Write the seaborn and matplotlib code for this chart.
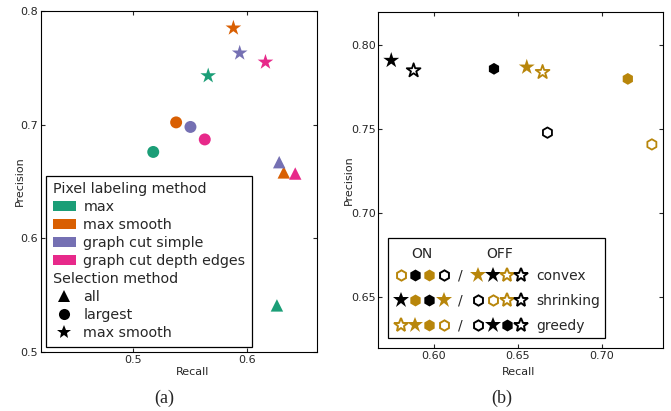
import numpy as np
import pandas as pd
import matplotlib
matplotlib.use("Agg")
import matplotlib.pyplot as plt
import matplotlib.text as mtext
import seaborn as sns
from matplotlib.lines import Line2D
from matplotlib.patches import Patch
from matplotlib.legend_handler import HandlerBase, HandlerTuple

# ---------------- Panel (a) data ----------------
pixel_methods = ["max", "max smooth", "graph cut simple", "graph cut depth edges"]
selection_methods = ["all", "largest", "max smooth"]
recall_all = [0.626, 0.632, 0.628, 0.642]
precision_all = [0.541, 0.658, 0.667, 0.657]
recall_largest = [0.518, 0.538, 0.5505, 0.563]
precision_largest = [0.676, 0.702, 0.698, 0.687]
recall_maxsmooth = [0.566, 0.588, 0.5935, 0.616]
precision_maxsmooth = [0.743, 0.785, 0.763, 0.755]
pixel_colors = ["#1b9e77", "#d95f02", "#7570b3", "#e7298a"]

# ---------------- Panel (b) data ----------------
convex = ["OFF", "OFF", "ON", "OFF", "OFF", "ON", "ON", "ON"]
shrinking = ["ON", "OFF", "ON", "ON", "OFF", "ON", "OFF", "OFF"]
greedy = ["OFF", "OFF", "OFF", "ON", "ON", "ON", "OFF", "ON"]
recall_b = [0.5747, 0.588, 0.6358, 0.6553, 0.6647, 0.7154, 0.6676, 0.7297]
precision_b = [0.791, 0.785, 0.786, 0.787, 0.784, 0.780, 0.748, 0.741]

# legend glyph rows for (b): (greedy, shrinking, convex) per glyph
legend_rows = {
    "convex": (
        [("ON", "OFF", "ON"), ("OFF", "ON", "ON"), ("ON", "ON", "ON"), ("OFF", "OFF", "ON")],
        [("ON", "ON", "OFF"), ("OFF", "ON", "OFF"), ("ON", "OFF", "OFF"), ("OFF", "OFF", "OFF")],
    ),
    "shrinking": (
        [("OFF", "ON", "OFF"), ("ON", "ON", "ON"), ("OFF", "ON", "ON"), ("ON", "ON", "OFF")],
        [("OFF", "OFF", "ON"), ("ON", "OFF", "ON"), ("ON", "OFF", "OFF"), ("OFF", "OFF", "OFF")],
    ),
    "greedy": (
        [("ON", "OFF", "OFF"), ("ON", "ON", "OFF"), ("ON", "ON", "ON"), ("ON", "OFF", "ON")],
        [("OFF", "OFF", "ON"), ("OFF", "ON", "OFF"), ("OFF", "ON", "ON"), ("OFF", "OFF", "OFF")],
    ),
}

greedy_colors = {"ON": "#b8860b", "OFF": "black"}
convex_markers = {"ON": "h", "OFF": "*"}

# ---------------- style ----------------
sns.set_style("ticks")
plt.rcParams.update({
    "font.family": ["DejaVu Sans"],
    "axes.edgecolor": "black",
    "axes.linewidth": 0.8,
    "xtick.direction": "in",
    "ytick.direction": "in",
    "xtick.top": True,
    "ytick.right": True,
    "xtick.major.size": 3,
    "ytick.major.size": 3,
    "xtick.major.width": 0.8,
    "ytick.major.width": 0.8,
    "xtick.labelsize": 8,
    "ytick.labelsize": 8,
    "axes.labelsize": 8,
    "xtick.major.pad": 2.5,
    "ytick.major.pad": 2.0,
})

fig = plt.figure(figsize=(6.71, 4.11), dpi=100)
W, H = 671, 411
ax1 = fig.add_axes([41 / W, 1 - 352 / H, (317 - 41) / W, (352 - 11) / H])
ax2 = fig.add_axes([378.3 / W, 1 - 347.7 / H, (663.3 - 378.3) / W, (347.7 - 11.7) / H])

# ---------------- Panel (a) ----------------
df_a = pd.DataFrame({
    "Recall": recall_all + recall_largest + recall_maxsmooth,
    "Precision": precision_all + precision_largest + precision_maxsmooth,
    "Pixel labeling method": pixel_methods * 3,
    "Selection method": [s for s in selection_methods for _ in pixel_methods],
})
sns.scatterplot(
    data=df_a, x="Recall", y="Precision",
    hue="Pixel labeling method", hue_order=pixel_methods,
    palette=dict(zip(pixel_methods, pixel_colors)),
    style="Selection method", style_order=selection_methods,
    markers={"all": "^", "largest": "o", "max smooth": "*"},
    size="Selection method",
    sizes={"all": 80, "largest": 74, "max smooth": 140},
    linewidth=0, legend=False, ax=ax1,
)
ax1.set_xlim(0.42, 0.661)
ax1.set_ylim(0.5, 0.8)
ax1.set_xticks([0.5, 0.6])
ax1.set_yticks([0.5, 0.6, 0.7, 0.8])
ax1.set_xticklabels(["0.5", "0.6"])
ax1.set_yticklabels(["0.5", "0.6", "0.7", "0.8"])
ax1.xaxis.set_label_coords(0.548, -0.044)
ax1.yaxis.set_label_coords(-0.058, 0.5)

handles_a = [Patch(facecolor=c, edgecolor="none") for c in pixel_colors]
labels_a = list(pixel_methods)
handles_a.append(Line2D([], [], visible=False))
labels_a.append("Selection method")
for m, ms in zip(["^", "o", "*"], [8.4, 8.0, 10.4]):
    handles_a.append(Line2D([], [], marker=m, color="black", linestyle="none",
                            markersize=ms, markeredgewidth=0))
labels_a += selection_methods

leg_a = ax1.legend(
    handles_a, labels_a, title="Pixel labeling method", alignment="left",
    loc="lower left", bbox_to_anchor=(0.019, 0.0155), borderaxespad=0,
    fontsize=10.3, title_fontsize=10.3, frameon=True, fancybox=False,
    edgecolor="black", framealpha=1, handlelength=1.6, handleheight=0.7,
    handletextpad=0.55, labelspacing=0.28, borderpad=0.45,
)
leg_a.get_frame().set_linewidth(0.9)
# make "Selection method" behave like a subtitle
col = leg_a._legend_handle_box.get_children()[0]
for hp in col.get_children():
    da, ta = hp.get_children()
    if not all(a.get_visible() for a in da.get_children()):
        da.set_width(0)
        hp.sep = 0

# ---------------- Panel (b) ----------------
df_b = pd.DataFrame({
    "Recall": recall_b, "Precision": precision_b,
    "convex": convex, "shrinking": shrinking, "greedy": greedy,
})
filled = df_b[df_b["shrinking"] == "ON"]
opened = df_b[df_b["shrinking"] == "OFF"]
sns.scatterplot(
    data=filled, x="Recall", y="Precision", hue="greedy", palette=greedy_colors,
    style="convex", markers=convex_markers, size="convex",
    sizes={"ON": 72, "OFF": 145}, linewidth=0, legend=False, ax=ax2,
)
sns.scatterplot(
    data=opened, x="Recall", y="Precision", hue="greedy", palette=greedy_colors,
    style="convex", markers=convex_markers, size="convex",
    sizes={"ON": 56, "OFF": 108}, legend=False, ax=ax2,
)
coll = ax2.collections[-1]
fc = coll.get_facecolors()
coll.set_edgecolors(fc)
coll.set_facecolors("none")
coll.set_linewidths(1.3)

ax2.set_xlim(0.567, 0.7365)
ax2.set_ylim(0.62, 0.82)
ax2.set_xticks([0.60, 0.65, 0.70])
ax2.set_yticks([0.65, 0.70, 0.75, 0.80])
ax2.set_xticklabels(["0.60", "0.65", "0.70"])
ax2.set_yticklabels(["0.65", "0.70", "0.75", "0.80"])
ax2.xaxis.set_label_coords(0.491, -0.058)
ax2.yaxis.set_label_coords(-0.087, 0.5)


class Header:
    def __init__(self, s):
        self.s = s


class HeaderHandler(HandlerBase):
    def create_artists(self, legend, orig_handle, xdescent, ydescent,
                       width, height, fontsize, trans):
        t = mtext.Text(width / 2 - xdescent, height / 2 - ydescent - 0.3 * fontsize,
                       orig_handle.s, ha="center", va="center",
                       fontsize=fontsize, transform=trans)
        return [t]


def glyph(spec):
    g, s, c = spec
    col = greedy_colors[g]
    m = convex_markers[c]
    if s == "ON":
        ms = 8.6 if m == "h" else 11.8
        return Line2D([], [], marker=m, linestyle="none", markersize=ms,
                      markerfacecolor=col, markeredgecolor=col, markeredgewidth=0)
    ms = 7.4 if m == "h" else 10.4
    return Line2D([], [], marker=m, linestyle="none", markersize=ms,
                  markerfacecolor="none", markeredgecolor=col, markeredgewidth=1.4)


opts = ["convex", "shrinking", "greedy"]
handles_b = [Header("ON")] + [tuple(glyph(s) for s in legend_rows[o][0]) for o in opts]
handles_b += [Header("OFF")] + [tuple(glyph(s) for s in legend_rows[o][1]) for o in opts]
labels_b = [""] + ["/"] * 3 + [""] + opts

leg_b = ax2.legend(
    handles_b, labels_b, ncol=2,
    handler_map={Header: HeaderHandler(), tuple: HandlerTuple(ndivide=None, pad=0)},
    loc="lower left", bbox_to_anchor=(0.035, 0.028), borderaxespad=0,
    fontsize=10, frameon=True, fancybox=False, edgecolor="black", framealpha=1,
    handlelength=4.1, handletextpad=0.55, columnspacing=0.6, labelspacing=0.8,
    borderpad=0.4,
)
leg_b.get_frame().set_linewidth(0.9)

fig.text(164 / W, 1 - 398 / H, "(a)", ha="center", va="center",
         fontsize=13, family="Liberation Serif")
fig.text(501.7 / W, 1 - 398 / H, "(b)", ha="center", va="center",
         fontsize=13, family="Liberation Serif")

fig.savefig("out.png", dpi=100)
